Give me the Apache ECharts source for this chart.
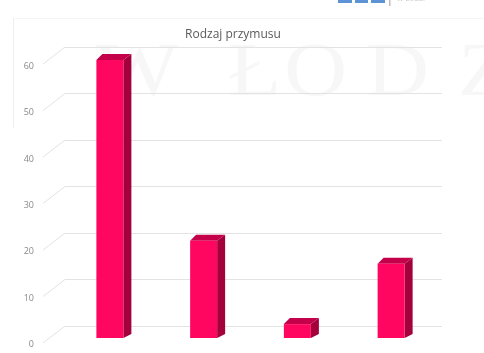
<!DOCTYPE html>
<html>
<head>
<meta charset="utf-8">
<script src="https://cdn.jsdelivr.net/npm/echarts@6/dist/echarts.min.js"></script>
<style>
  html, body { margin: 0; padding: 0; background: #ffffff; }
  #chart { width: 484px; height: 353px; }
</style>
</head>
<body>
<div id="chart"></div>
<script>
// Chart content
const chartTitle = 'Rodzaj przymusu';
const categories = ['A', 'B', 'C', 'D'];
const counts = [60, 21, 3, 16];
const yTicks = [0, 10, 20, 30, 40, 50, 60];

// 3D column styling
const BAR_W = 27;      // front face width
const DEPTH_X = 8;     // depth offset to the right
const DEPTH_Y = -6;    // depth offset upwards
const FRONT = '#ff0760';
const SIDE = '#a3003c';
const TOP = '#c5004b';

const chart = echarts.init(document.getElementById('chart'), null, { renderer: 'canvas' });

function renderColumn(params, api) {
  const idx = api.value(0);
  const val = api.value(1);
  const topPt = api.coord([idx, val]);
  const basePt = api.coord([idx, 0]);
  const l = topPt[0] - BAR_W / 2;
  const r = topPt[0] + BAR_W / 2;
  const t = topPt[1];
  const b = basePt[1];
  return {
    type: 'group',
    children: [
      { type: 'polygon', shape: { points: [[r, t], [r + DEPTH_X, t + DEPTH_Y], [r + DEPTH_X, b - 4], [r, b]] },
        style: { fill: SIDE } },
      { type: 'polygon', shape: { points: [[l, t], [l + DEPTH_X - 2, t + DEPTH_Y], [r + DEPTH_X, t + DEPTH_Y], [r, t]] },
        style: { fill: TOP } },
      { type: 'rect', shape: { x: l, y: t, width: BAR_W, height: b - t },
        style: { fill: FRONT } }
    ]
  };
}

// slanted floor lines joining each value label to its wall gridline
function renderDiagonal(params, api) {
  const y = api.coord([0, api.value(1)])[1];
  const x0 = params.coordSys.x;
  return {
    type: 'line',
    shape: { x1: x0, y1: y, x2: x0 - 22, y2: y + 17 },
    style: { stroke: '#e3e3e3', lineWidth: 1 }
  };
}

// faint watermark letters behind the plot
const watermark = [
  { ch: 'W', x: 96 }, { ch: 'Ł', x: 228 }, { ch: 'O', x: 284 },
  { ch: 'D', x: 366 }, { ch: 'Z', x: 458 }
].map(g => ({
  type: 'text', left: g.x, top: 37, z: -10, silent: true,
  scaleX: 1.15,
  style: { text: g.ch, font: '76px "Liberation Serif"', fill: '#f7f7f7' }
}));

const option = {
  backgroundColor: '#ffffff',
  animation: false,
  title: {
    text: chartTitle,
    left: 228, top: 24, textAlign: 'center',
    textStyle: { fontFamily: 'Open Sans', fontSize: 12, fontWeight: 'normal', color: '#5a5a5a' }
  },
  graphic: [
    { type: 'line', shape: { x1: 13.5, y1: 18, x2: 13.5, y2: 128 }, style: { stroke: '#eeeeee', lineWidth: 1 }, z: -5 },
    { type: 'line', shape: { x1: 14, y1: 18.5, x2: 484, y2: 18.5 }, style: { stroke: '#f5f5f5', lineWidth: 1 }, z: -5 },
    // cut-off logo at the top edge
    { type: 'rect', shape: { x: 338, y: 0, width: 14, height: 3 }, style: { fill: '#5b93d4' } },
    { type: 'rect', shape: { x: 355, y: 0, width: 13, height: 3 }, style: { fill: '#5b93d4' } },
    { type: 'rect', shape: { x: 371, y: 0, width: 14, height: 3 }, style: { fill: '#5b93d4' } },
    { type: 'rect', shape: { x: 389, y: 0, width: 1.5, height: 6 }, style: { fill: '#bdbdbd' } },
    { type: 'text', left: 397, top: -5, style: { text: 'w Łodzi', font: '8px "Open Sans"', fill: '#cccccc' } }
  ].concat(watermark),
  grid: [
    // back wall
    { left: 65, right: 42, top: 47, bottom: 27 },
    // front plane of the columns
    { left: 63, right: 46, top: 60, bottom: 15 },
    // value labels, set slightly below the front plane
    { left: 63, right: 46, top: 66.5, bottom: 8.5 }
  ],
  xAxis: [
    { gridIndex: 0, type: 'category', data: categories, show: false },
    { gridIndex: 1, type: 'category', data: categories, show: false },
    { gridIndex: 2, type: 'category', data: categories, show: false }
  ],
  yAxis: [
    { gridIndex: 0, type: 'value', min: 0, max: 60, interval: 10,
      axisLabel: { show: false }, axisLine: { show: false }, axisTick: { show: false },
      splitLine: { lineStyle: { color: '#e3e3e3', width: 1 } } },
    { gridIndex: 1, type: 'value', min: 0, max: 60, interval: 10, show: false },
    { gridIndex: 2, type: 'value', min: 0, max: 60, interval: 10,
      axisLine: { show: false }, axisTick: { show: false }, splitLine: { show: false },
      axisLabel: { margin: 29, fontFamily: 'Open Sans', fontSize: 9, color: '#8a8a8a' } }
  ],
  series: [
    { type: 'custom', xAxisIndex: 0, yAxisIndex: 0, renderItem: renderDiagonal,
      data: yTicks.map(v => [0, v]), silent: true, z: 1 },
    { type: 'custom', xAxisIndex: 1, yAxisIndex: 1, renderItem: renderColumn,
      data: counts.map((v, i) => [i, v]), z: 5 }
  ]
};

chart.setOption(option);
</script>
</body>
</html>
